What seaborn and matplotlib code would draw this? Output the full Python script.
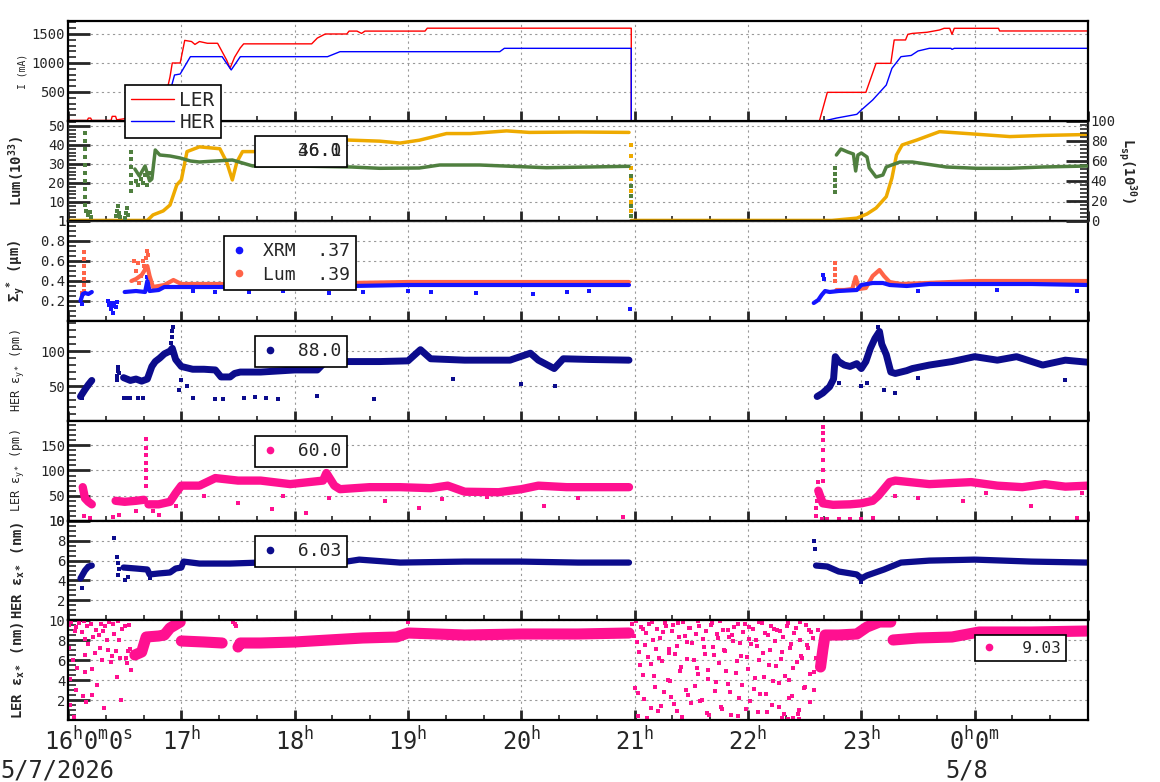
import seaborn as sns
import matplotlib.pyplot as plt
import matplotlib.transforms as mtransforms
from matplotlib.lines import Line2D
from matplotlib.ticker import MultipleLocator, FixedLocator, FixedFormatter

# time is hours since 16:00 on 5/7/2026

# beam currents (mA)
ler_current = [(0, 10), (0.17, 10), (0.18, 50), (0.2, 50), (0.21, 10), (0.38, 10), (0.39, 80), (0.42, 80),
               (0.43, 20), (0.5, 40), (0.53, 80), (0.6, 60), (0.64, 90), (0.68, 110), (0.72, 500), (0.87, 500),
               (0.90, 760), (0.92, 1000), (0.99, 1000), (1.03, 1390), (1.09, 1370), (1.12, 1320), (1.16, 1370),
               (1.23, 1340), (1.32, 1340), (1.40, 1050), (1.43, 910), (1.47, 1100), (1.52, 1260), (1.55, 1330),
               (2.15, 1330), (2.20, 1430), (2.27, 1500), (2.46, 1500), (2.48, 1550), (2.55, 1550), (2.59, 1510),
               (2.62, 1550), (3.15, 1550), (3.17, 1600), (4.97, 1600), (4.97, 0), (6.60, 0), (6.63, 0),
               (6.70, 494), (7.04, 494), (7.13, 994), (7.26, 994), (7.29, 1397), (7.39, 1397), (7.41, 1494),
               (7.45, 1510), (7.58, 1530), (7.69, 1569), (7.73, 1598), (7.78, 1598), (7.80, 1494), (7.82, 1598),
               (8.21, 1598), (8.22, 1552), (9.0, 1552)]
her_current = [(0, 5), (0.53, 5), (0.64, 50), (0.72, 190), (0.81, 360), (0.87, 420), (0.90, 505), (0.94, 793),
               (0.99, 810), (1.08, 1109), (1.36, 1109), (1.44, 880), (1.52, 1109), (2.29, 1109), (2.40, 1195),
               (3.81, 1195), (3.85, 1253), (4.97, 1253), (4.97, 0), (6.60, 0), (6.68, 5), (6.78, 50),
               (6.96, 115), (7.00, 190), (7.10, 362), (7.22, 620), (7.27, 908), (7.35, 1109), (7.44, 1130),
               (7.50, 1207), (7.60, 1253), (7.79, 1253), (7.80, 1235), (7.82, 1253), (9.0, 1253)]

# luminosity (left axis, 10^33) and specific luminosity (right axis, 10^30)
lum_day1 = [(0, 0.3), (0.70, 0.3), (0.75, 3.2), (0.84, 5.3), (0.90, 8.4), (0.96, 19), (1.0, 21.6), (1.05, 36.5),
            (1.16, 39), (1.34, 38), (1.40, 31), (1.45, 21.6), (1.49, 31), (1.54, 36.5), (1.76, 36.5), (2.05, 38),
            (2.34, 40), (2.46, 42.6), (2.75, 42), (2.93, 41), (3.10, 42.5), (3.34, 46), (3.55, 46), (3.87, 47.4),
            (4.07, 46.6), (4.50, 46.8), (4.95, 46.6)]
lum_drop = [(4.97, 40), (4.97, 34), (4.97, 28), (4.97, 22), (4.97, 16), (4.97, 10), (4.97, 5)]
lum_day2 = [(4.97, 0.3), (6.74, 0.3), (6.96, 1.5), (7.05, 3.7), (7.13, 6.8), (7.22, 12.8), (7.27, 22.6),
            (7.31, 34.7), (7.36, 40), (7.49, 42.6), (7.69, 47), (7.98, 45.8), (8.31, 44.4), (8.60, 45), (9.0, 45.5)]
lsp_day1 = [(0.59, 52), (0.63, 45), (0.68, 55), (0.72, 40), (0.74, 42), (0.77, 71), (0.81, 66), (0.90, 65),
            (0.99, 63), (1.08, 60), (1.16, 59), (1.30, 60), (1.45, 61), (1.63, 55), (2.0, 55), (2.5, 54),
            (2.75, 52.7), (3.10, 53), (3.28, 56), (3.63, 56), (4.22, 53.3), (4.60, 54), (4.95, 54.7)]
lsp_day2 = [(6.78, 66), (6.82, 72), (6.88, 69), (6.93, 67), (6.95, 50), (6.97, 66), (7.0, 68), (7.05, 64),
            (7.07, 53), (7.13, 44), (7.19, 46), (7.22, 54), (7.34, 59), (7.45, 59), (7.75, 54), (8.02, 52.7),
            (8.31, 52.7), (8.60, 54), (9.0, 55)]
lsp_dots = [(0.15, 88), (0.15, 80), (0.15, 72), (0.15, 64), (0.15, 56), (0.15, 48), (0.15, 40), (0.15, 32),
            (0.15, 24), (0.15, 16), (0.16, 10), (0.18, 6), (0.19, 9), (0.20, 4), (0.42, 5), (0.43, 10), (0.44, 15),
            (0.45, 8), (0.46, 4), (0.50, 3), (0.51, 8), (0.52, 13), (0.53, 6), (0.56, 30), (0.56, 38), (0.56, 46),
            (0.56, 54), (0.56, 62), (0.56, 69), (0.60, 40), (0.62, 36), (0.64, 42), (0.66, 38), (0.68, 46),
            (0.70, 36), (0.72, 48), (4.97, 45), (4.97, 35), (4.97, 25), (4.97, 15), (4.97, 5), (6.77, 29),
            (6.77, 35), (6.77, 41), (6.77, 47), (6.77, 53)]

# vertical beam size (um)
xrm_day0 = [(0.11, 0.20), (0.13, 0.27), (0.15, 0.28), (0.18, 0.27), (0.21, 0.29)]
xrm_day1 = [(0.50, 0.29), (0.60, 0.30), (0.68, 0.29), (0.70, 0.40), (0.72, 0.30), (0.80, 0.31), (0.85, 0.34),
            (1.0, 0.34), (1.5, 0.34), (2.0, 0.35), (2.5, 0.35), (3.0, 0.36), (4.0, 0.36), (4.95, 0.36)]
xrm_day2 = [(6.58, 0.18), (6.62, 0.21), (6.65, 0.26), (6.68, 0.30), (6.72, 0.29), (6.80, 0.30), (6.96, 0.31),
            (7.0, 0.36), (7.1, 0.38), (7.19, 0.38), (7.25, 0.36), (7.4, 0.35), (7.6, 0.37), (8.0, 0.37),
            (8.5, 0.37), (9.0, 0.36)]
xrm_dots = [(0.12, 0.17), (0.35, 0.20), (0.36, 0.16), (0.37, 0.18), (0.38, 0.12), (0.39, 0.15), (0.40, 0.08),
            (0.41, 0.18), (0.42, 0.14), (0.43, 0.19), (0.70, 0.44), (0.71, 0.37), (1.1, 0.30), (1.3, 0.29),
            (1.6, 0.29), (1.9, 0.30), (2.3, 0.28), (2.6, 0.29), (3.0, 0.30), (3.2, 0.29), (3.6, 0.28), (4.1, 0.27),
            (4.4, 0.29), (4.6, 0.30), (4.96, 0.12), (6.66, 0.46), (6.67, 0.42), (7.5, 0.30), (8.2, 0.31),
            (8.9, 0.30)]
lumsize_day1 = [(0.56, 0.40), (0.60, 0.42), (0.65, 0.46), (0.70, 0.55), (0.72, 0.45), (0.75, 0.34), (0.85, 0.36),
                (0.93, 0.41), (1.0, 0.37), (1.2, 0.37), (1.5, 0.37), (2.0, 0.38), (2.5, 0.38), (3.0, 0.39),
                (4.0, 0.39), (4.95, 0.39)]
lumsize_day2 = [(6.78, 0.31), (6.85, 0.31), (6.92, 0.32), (6.95, 0.44), (6.98, 0.32), (7.04, 0.33), (7.10, 0.45),
                (7.16, 0.51), (7.20, 0.45), (7.25, 0.39), (7.35, 0.37), (7.58, 0.38), (8.0, 0.40), (8.5, 0.40),
                (9.0, 0.40)]
lumsize_dots = [(0.14, 0.69), (0.14, 0.62), (0.14, 0.55), (0.14, 0.48), (0.14, 0.42), (0.14, 0.36), (0.14, 0.30),
                (0.12, 0.28), (0.13, 0.27), (0.58, 0.60), (0.60, 0.50), (0.62, 0.58), (0.63, 0.38), (0.64, 0.45),
                (0.66, 0.60), (0.67, 0.55), (0.68, 0.52), (0.69, 0.63), (0.70, 0.70), (0.71, 0.66), (6.77, 0.58),
                (6.77, 0.52), (6.77, 0.46), (6.77, 0.40)]

# HER vertical emittance (pm)
her_ey_a = [(0.11, 35), (0.13, 40), (0.15, 45), (0.18, 52), (0.21, 58)]
her_ey_b = [(0.49, 62), (0.55, 58), (0.60, 60), (0.65, 57), (0.70, 60), (0.74, 78), (0.77, 85), (0.81, 90),
            (0.85, 96), (0.90, 100), (0.92, 104), (0.95, 88), (1.0, 78), (1.05, 76), (1.10, 74), (1.20, 74),
            (1.30, 73), (1.35, 63), (1.43, 63), (1.47, 68), (1.52, 70), (1.70, 70), (2.0, 73), (2.20, 73),
            (2.26, 83), (2.31, 97), (2.40, 85), (2.75, 85), (3.0, 86), (3.11, 102), (3.20, 89), (3.50, 87),
            (3.90, 87), (4.08, 97), (4.15, 87), (4.29, 75), (4.37, 89), (4.60, 88), (4.95, 87)]
her_ey_c = [(6.61, 35), (6.66, 40), (6.72, 49), (6.755, 60), (6.77, 92), (6.80, 85), (6.85, 80), (6.90, 78),
            (6.96, 82), (7.0, 75), (7.04, 85), (7.08, 104), (7.12, 118), (7.16, 128), (7.18, 110), (7.22, 95),
            (7.26, 70), (7.30, 68), (7.40, 72), (7.45, 75), (7.60, 80), (7.80, 85), (8.0, 92), (8.2, 87),
            (8.37, 92), (8.6, 80), (8.8, 87), (9.0, 84)]
her_ey_dots = [(0.12, 33), (0.43, 58), (0.43, 65), (0.44, 72), (0.44, 77), (0.45, 68), (0.49, 33), (0.52, 33),
               (0.55, 33), (0.62, 33), (0.66, 33), (0.91, 112), (0.92, 120), (0.92, 128), (0.93, 135), (0.98, 45),
               (1.0, 58), (1.05, 50), (1.10, 33), (1.30, 32), (1.37, 32), (1.55, 33), (1.65, 34), (1.75, 33),
               (1.85, 32), (2.20, 36), (2.70, 31), (3.40, 60), (4.0, 53), (4.3, 50), (6.75, 66), (6.8, 55),
               (7.0, 50), (7.05, 55), (7.2, 45), (7.3, 40), (7.5, 62), (8.8, 58), (7.15, 135), (7.14, 125)]

# LER vertical emittance (pm)
ler_ey_a = [(0.13, 67), (0.15, 45), (0.18, 38), (0.21, 33)]
ler_ey_b = [(0.42, 40), (0.50, 38), (0.60, 40), (0.67, 42)]
ler_ey_c = [(0.71, 33), (0.80, 33), (0.90, 38), (0.95, 55), (1.0, 70), (1.16, 70), (1.30, 85), (1.50, 80),
            (1.70, 80), (1.96, 73), (2.25, 80), (2.28, 95), (2.35, 70), (2.40, 63), (2.66, 67), (2.93, 67),
            (3.20, 65), (3.35, 70), (3.50, 58), (3.80, 57), (4.0, 63), (4.15, 70), (4.40, 67), (4.95, 67)]
ler_ey_d = [(6.62, 60), (6.66, 35), (6.75, 32), (6.90, 33), (7.0, 35), (7.10, 40), (7.15, 50), (7.25, 77),
            (7.30, 80), (7.60, 73), (7.97, 77), (8.20, 70), (8.42, 67), (8.62, 73), (8.80, 68), (9.0, 70)]
ler_ey_dots = [(0.14, 10), (0.19, 5), (0.40, 8), (0.45, 12), (0.60, 20), (0.69, 70), (0.69, 85), (0.69, 100),
               (0.69, 115), (0.69, 130), (0.69, 145), (0.69, 163), (0.75, 20), (0.80, 12), (0.95, 30), (1.2, 50),
               (1.5, 35), (1.8, 24), (1.9, 50), (2.1, 15), (2.3, 45), (2.8, 40), (3.1, 25), (3.3, 44), (3.7, 47),
               (4.2, 30), (4.5, 45), (4.9, 8), (6.60, 10), (6.60, 25), (6.61, 40), (6.61, 55), (6.62, 77),
               (6.66, 80), (6.66, 100), (6.66, 120), (6.66, 140), (6.66, 160), (6.66, 175), (6.66, 187),
               (6.65, 3), (6.70, 4), (6.80, 3), (6.90, 4), (7.0, 3), (7.1, 5), (7.3, 50), (7.5, 45), (7.9, 40),
               (8.1, 55), (8.5, 30), (8.9, 6), (8.95, 55)]

# HER horizontal emittance (nm)
her_ex_a = [(0.11, 4.2), (0.15, 5.0), (0.18, 5.4), (0.21, 5.5)]
her_ex_b = [(0.49, 5.3), (0.60, 5.2), (0.70, 5.1), (0.72, 4.6), (0.80, 4.7), (0.90, 4.8), (0.95, 5.2), (1.0, 5.3),
            (1.02, 5.9), (1.16, 5.7), (1.43, 5.7), (1.69, 5.8), (2.05, 5.7), (2.40, 5.8), (2.57, 6.1), (2.93, 5.8),
            (3.50, 5.9), (4.0, 5.9), (4.50, 5.8), (4.95, 5.8)]
her_ex_c = [(6.60, 5.5), (6.70, 5.4), (6.80, 4.9), (6.96, 4.6), (7.0, 4.2), (7.05, 4.5), (7.20, 5.1), (7.35, 5.8),
            (7.60, 6.0), (8.0, 6.1), (8.5, 5.9), (9.0, 5.8)]
her_ex_dots = [(0.12, 3.2), (0.41, 8.3), (0.43, 6.4), (0.44, 5.8), (0.44, 4.5), (0.45, 5.2), (0.50, 4.0),
               (0.53, 4.3), (0.72, 4.2), (6.58, 8.0), (6.59, 7.2), (7.0, 3.8)]

# LER horizontal emittance (nm)
ler_ex_a = [(0.59, 6.5), (0.65, 6.8), (0.69, 8.3), (0.80, 8.4), (0.85, 8.5), (0.90, 9.2), (0.96, 9.6), (0.99, 9.8)]
ler_ex_b = [(1.0, 7.9), (1.2, 7.8), (1.36, 7.7)]
ler_ex_c = [(1.50, 7.3), (1.52, 7.7), (1.70, 7.7), (2.0, 7.8), (2.3, 8.0), (2.6, 8.2), (2.9, 8.3), (3.0, 8.7),
            (3.5, 8.5), (4.0, 8.6), (4.5, 8.6), (4.95, 8.7)]
ler_ex_d = [(6.64, 5.3), (6.66, 7.0), (6.68, 8.5), (6.80, 8.5), (6.96, 8.6), (7.05, 9.3), (7.16, 9.8), (7.26, 9.8)]
ler_ex_e = [(7.28, 8.0), (7.50, 8.2), (7.80, 8.3), (8.04, 8.8), (8.5, 8.8), (9.0, 8.9)]
ler_ex_dots = [(1.46, 9.8), (1.47, 9.6), (1.48, 9.4), (3.0, 9.8), (6.30, 0.2), (6.35, 0.1), (6.40, 0.2),
               (6.45, 0.15), (6.58, 3.0), (6.60, 6.2), (6.62, 9.0)]
early_t = [0.01, 0.01, 0.02, 0.02, 0.03, 0.04, 0.05, 0.06, 0.07, 0.07, 0.08, 0.10, 0.12, 0.13, 0.14, 0.15, 0.15,
           0.15, 0.16, 0.17, 0.18, 0.20, 0.21, 0.21, 0.22, 0.24, 0.25, 0.26, 0.27, 0.28, 0.29, 0.30, 0.31, 0.32,
           0.33, 0.34, 0.35, 0.36, 0.38, 0.39, 0.40, 0.41, 0.42, 0.43, 0.44, 0.45, 0.46, 0.47, 0.48, 0.50, 0.51,
           0.52, 0.53, 0.54, 0.55, 0.56, 0.57]
early_v = [9.5, 7.2, 4.1, 1.5, 9.8, 6.0, 0.3, 8.9, 3.0, 9.3, 5.2, 9.7, 8.8, 2.4, 9.9, 8.1, 6.5, 4.8, 1.8, 9.4,
           7.6, 9.6, 5.1, 2.5, 8.3, 6.7, 9.0, 3.5, 8.5, 7.2, 9.6, 6.0, 8.9, 1.2, 9.4, 8.0, 7.0, 9.8, 5.8, 6.4,
           9.6, 8.6, 6.9, 4.3, 9.9, 8.0, 6.2, 2.0, 9.1, 9.4, 6.2, 5.7, 6.9, 9.5, 7.1, 5.0, 6.6]
gap_t = [4.98, 5.00, 5.02, 5.03, 5.05, 5.07, 5.08, 5.10, 5.12, 5.14, 5.15, 5.17, 5.19, 5.21, 5.22, 5.24, 5.26,
         5.28, 5.30, 5.31, 5.33, 5.35, 5.37, 5.38, 5.40, 5.42, 5.44, 5.46, 5.47, 5.49, 5.51, 5.53, 5.55, 5.56,
         5.58, 5.60, 5.62, 5.64, 5.65, 5.67, 5.69, 5.71, 5.73, 5.74, 5.76, 5.78, 5.80, 5.82, 5.83, 5.85, 5.87,
         5.89, 5.91, 5.92, 5.94, 5.96, 5.98, 6.00, 6.01, 6.03, 6.05, 6.07, 6.09, 6.10, 6.12, 6.14, 6.16, 6.18,
         6.19, 6.21, 6.23, 6.25, 6.27, 6.28, 6.30, 6.32, 6.34, 6.36, 6.37, 6.39, 6.41, 6.43, 6.45, 6.46, 6.48,
         6.50, 6.52, 6.54, 6.55, 6.57]
gap_v = [9.6, 3.2, 7.8, 0.4, 5.5, 9.1, 2.1, 8.7, 6.3, 1.2, 9.8, 4.4, 7.1, 0.9, 8.2, 5.9, 2.8, 9.4, 6.7, 3.9,
         8.9, 1.6, 7.4, 9.7, 4.9, 0.3, 8.4, 6.1, 2.5, 9.2, 7.7, 3.4, 5.2, 9.9, 1.9, 8.1, 6.6, 0.7, 4.1, 9.5,
         7.3, 2.9, 8.6, 5.7, 1.3, 9.0, 6.9, 3.6, 8.3, 0.5, 7.9, 4.7, 9.6, 2.2, 6.4, 8.8, 1.1, 5.1, 9.3, 7.6,
         3.1, 8.0, 0.8, 6.0, 9.7, 4.3, 2.6, 8.5, 7.0, 1.5, 9.1, 5.4, 3.7, 8.9, 6.8, 0.6, 9.4, 4.0, 7.2, 2.4,
         8.7, 5.8, 1.0, 9.8, 6.2, 3.3, 7.5, 9.0, 4.6, 8.2]
gap2_t = [4.99, 5.01, 5.025, 5.04, 5.06, 5.075, 5.09, 5.11, 5.13, 5.145, 5.16, 5.18, 5.20, 5.215, 5.23, 5.25,
          5.27, 5.29, 5.305, 5.32, 5.34, 5.36, 5.375, 5.39, 5.41, 5.43, 5.45, 5.465, 5.48, 5.50, 5.52, 5.54,
          5.555, 5.57, 5.59, 5.61, 5.63, 5.645, 5.66, 5.68, 5.70, 5.72, 5.735, 5.75, 5.77, 5.79, 5.81, 5.825,
          5.84, 5.86, 5.88, 5.90, 5.915, 5.93, 5.95, 5.97, 5.99, 6.005, 6.02, 6.04, 6.06, 6.08, 6.095, 6.11,
          6.13, 6.15, 6.17, 6.185, 6.20, 6.22, 6.24, 6.26, 6.275, 6.29, 6.31, 6.33, 6.35, 6.365, 6.38, 6.40,
          6.42, 6.44, 6.455, 6.47, 6.49, 6.51, 6.53, 6.545, 6.56, 6.58]
gap2_v = [8.4, 9.9, 2.7, 6.8, 9.3, 4.5, 7.5, 0.2, 9.6, 5.6, 8.0, 3.3, 9.1, 6.2, 1.4, 8.8, 9.7, 4.0, 7.1, 2.3,
          9.5, 6.6, 0.9, 8.3, 5.3, 9.8, 3.0, 7.8, 9.2, 1.7, 6.0, 8.6, 4.6, 9.4, 2.0, 7.3, 8.9, 5.0, 0.5, 9.7,
          6.5, 3.8, 8.2, 9.9, 1.1, 7.0, 4.9, 9.0, 2.8, 8.5, 9.3, 5.9, 0.4, 7.7, 3.5, 9.6, 6.3, 8.1, 1.9, 9.1,
          4.2, 7.4, 9.8, 2.6, 6.7, 8.7, 0.8, 5.5, 9.4, 3.9, 7.9, 9.0, 1.3, 6.1, 8.3, 4.4, 9.7, 2.2, 7.6, 5.2,
          9.2, 0.6, 8.0, 6.4, 3.2, 9.5, 7.2, 1.8, 8.8, 4.8]

hour_labels = [r'16$^{h}$0$^{m}$0$^{s}$', r'17$^{h}$', r'18$^{h}$', r'19$^{h}$', r'20$^{h}$',
               r'21$^{h}$', r'22$^{h}$', r'23$^{h}$', r'0$^{h}$0$^{m}$']
legend_values = {'lum': '46.0', 'lsp': '36.1', 'xrm': '.37', 'lumsize': '.39',
                 'her_ey': '88.0', 'ler_ey': '60.0', 'her_ex': '6.03', 'ler_ex': '9.03'}

RED, BLUE = '#ff0000', '#0000ff'
ORANGE, GREEN = '#eeaa00', '#4f7f3f'
XRM_C, LUM_C = '#1414ff', '#ff6347'
NAVY, PINK = '#0c0c8c', '#ff1090'

sns.set_style('white')
plt.rcParams['font.family'] = ['DejaVu Sans Mono', 'DejaVu Sans']
plt.rcParams['mathtext.fontset'] = 'custom'
plt.rcParams['mathtext.rm'] = 'DejaVu Sans Mono'
plt.rcParams['mathtext.it'] = 'DejaVu Sans Mono'
plt.rcParams['mathtext.bf'] = 'DejaVu Sans Mono:bold'

W, H = 1160, 782
fig = plt.figure(figsize=(W / 100, H / 100), dpi=100)
edges = [21, 121, 221, 321, 421, 521, 620, 720]
axes = []
for i in range(7):
    axes.append(fig.add_axes([68 / W, 1 - edges[i + 1] / H, 1020 / W, (edges[i + 1] - edges[i]) / H]))


def line(ax, pts, color, lw):
    t, v = zip(*pts)
    sns.lineplot(x=list(t), y=list(v), ax=ax, color=color, linewidth=lw, estimator=None, sort=False)


def dots(ax, t, v, color, s=6):
    sns.scatterplot(x=list(t), y=list(v), ax=ax, color=color, s=s, marker='s', linewidth=0)


def pdots(ax, pts, color, s=6):
    t, v = zip(*pts)
    dots(ax, t, v, color, s)


def style(ax, lim, ticks, labels, minor, label, weight='normal', size=8):
    ax.set_xlim(0, 9)
    ax.set_ylim(*lim)
    ax.xaxis.set_major_locator(MultipleLocator(1))
    ax.xaxis.set_minor_locator(MultipleLocator(1 / 3))
    ax.yaxis.set_major_locator(FixedLocator(ticks))
    ax.yaxis.set_major_formatter(FixedFormatter(labels))
    ax.yaxis.set_minor_locator(MultipleLocator(minor))
    ax.tick_params(axis='x', which='major', direction='in', length=7, width=2, bottom=True, top=False,
                   labelbottom=False)
    ax.tick_params(axis='x', which='minor', direction='in', length=3.5, width=1.2, bottom=True, top=False)
    ax.tick_params(axis='y', which='major', direction='in', length=16, width=2, left=True, right=False,
                   labelsize=10, pad=2)
    ax.tick_params(axis='y', which='minor', direction='in', length=6, width=1.2, left=True, right=False)
    ax.grid(True, which='major', linestyle=(0, (2, 3)), color='#999999', linewidth=0.8)
    for sp in ax.spines.values():
        sp.set_linewidth(1.6)
        sp.set_color('black')
    ax.set_xlabel('')
    ax.set_ylabel(label, fontsize=size, fontweight=weight)
    ax.yaxis.set_label_coords(-0.04, 0.5)


def box_legend(ax, handles, labels, px, py, fs=13, **kw):
    opts = dict(loc='upper left', bbox_to_anchor=(px / W, 1 - py / H), bbox_transform=fig.transFigure,
                fontsize=fs, frameon=True, fancybox=False, edgecolor='black', framealpha=1, borderaxespad=0,
                borderpad=0.35, handlelength=1.0, handletextpad=0.4, labelspacing=0.25)
    opts.update(kw)
    leg = ax.legend(handles, labels, **opts)
    leg.get_frame().set_linewidth(1.2)
    return leg


def dot_handle(color):
    return Line2D([], [], ls='none', marker='o', markersize=4.5, color=color)


# panel 1: beam currents
ax = axes[0]
line(ax, ler_current, RED, 1.0)
line(ax, her_current, BLUE, 1.0)
style(ax, (0, 1724), [500, 1000, 1500], ['500', '1000', '1500'], 100, 'I (mA)', size=7)
box_legend(ax, [Line2D([], [], color=RED, lw=1), Line2D([], [], color=BLUE, lw=1)], ['LER', 'HER'], 125, 85,
           fs=14, handlelength=2.2, handletextpad=0.3, labelspacing=0.15, borderpad=0.3)
ax.set_zorder(10)

# panel 2: luminosity
ax = axes[1]
axr = ax.twinx()
line(ax, lum_day1, ORANGE, 2.5)
line(ax, lum_day2, ORANGE, 2.5)
pdots(ax, lum_drop, ORANGE, 5)
line(axr, lsp_day1, GREEN, 2.5)
line(axr, lsp_day2, GREEN, 2.5)
pdots(axr, lsp_dots, GREEN, 5)
style(ax, (0, 52.6), [0, 10, 20, 30, 40, 50], ['1', '10', '20', '30', '40', '50'], 2,
      r'Lum(10$^{\mathbf{33}}$)', weight='bold', size=10)
axr.set_ylim(0, 100)
axr.set_xlim(0, 9)
axr.yaxis.set_major_locator(MultipleLocator(20))
axr.yaxis.set_minor_locator(MultipleLocator(4))
axr.tick_params(axis='y', which='major', direction='in', length=16, width=2, labelsize=10, pad=2)
axr.tick_params(axis='y', which='minor', direction='in', length=6, width=1.2)
axr.set_ylabel(r'L$_{\mathbf{sp}}$(10$^{\mathbf{30}}$)', fontsize=10, fontweight='bold', rotation=270,
               labelpad=14)
axr.yaxis.set_label_coords(1.05, 0.5)
blank = Line2D([], [], ls='none')
leg_a = box_legend(axr, [blank], [' ' + legend_values['lum']], 255, 136)
axr.add_artist(leg_a)
box_legend(axr, [blank], [' ' + legend_values['lsp']], 255, 136, framealpha=0)

# panel 3: vertical beam size
ax = axes[2]
line(ax, lumsize_day1, LUM_C, 3)
line(ax, lumsize_day2, LUM_C, 3)
pdots(ax, lumsize_dots, LUM_C)
line(ax, xrm_day0, XRM_C, 3)
line(ax, xrm_day1, XRM_C, 3)
line(ax, xrm_day2, XRM_C, 3)
pdots(ax, xrm_dots, XRM_C)
style(ax, (0, 1), [0.2, 0.4, 0.6, 0.8, 1.0], ['0.2', '0.4', '0.6', '0.8', '1'], 0.05,
      r'$\mathbf{\Sigma_y}^{\mathbf{*}}$ (μm)', weight='bold', size=10)
box_legend(ax, [dot_handle(XRM_C), dot_handle(LUM_C)],
           ['XRM  ' + legend_values['xrm'], 'Lum  ' + legend_values['lumsize']], 224, 236,
           handletextpad=0.8, labelspacing=0.3)

# panel 4: HER vertical emittance
ax = axes[3]
for seg in (her_ey_a, her_ey_b, her_ey_c):
    line(ax, seg, NAVY, 5)
pdots(ax, her_ey_dots, NAVY)
style(ax, (0, 143), [50, 100], ['50', '100'], 10, r'HER ε$_{y*}$ (pm)', size=8.5)
box_legend(ax, [dot_handle(NAVY)], [' ' + legend_values['her_ey']], 255, 336)

# panel 5: LER vertical emittance
ax = axes[4]
for seg in (ler_ey_a, ler_ey_b, ler_ey_c, ler_ey_d):
    line(ax, seg, PINK, 6)
pdots(ax, ler_ey_dots, PINK)
style(ax, (0, 198), [0, 50, 100, 150], ['10', '50', '100', '150'], 10, r'LER ε$_{y*}$ (pm)', size=8.5)
box_legend(ax, [dot_handle(PINK)], [' ' + legend_values['ler_ey']], 255, 436)

# panel 6: HER horizontal emittance
ax = axes[5]
for seg in (her_ex_a, her_ex_b, her_ex_c):
    line(ax, seg, NAVY, 4.5)
pdots(ax, her_ex_dots, NAVY)
style(ax, (0, 10), [2, 4, 6, 8, 10], ['2', '4', '6', '8', '10'], 0.5, r'HER ε$_{\mathbf{x*}}$ (nm)',
      weight='bold', size=10)
box_legend(ax, [dot_handle(NAVY)], [' ' + legend_values['her_ex']], 255, 536)

# panel 7: LER horizontal emittance
ax = axes[6]
for seg in (ler_ex_a, ler_ex_b, ler_ex_c, ler_ex_d, ler_ex_e):
    line(ax, seg, PINK, 8)
pdots(ax, ler_ex_dots, PINK)
dots(ax, early_t, early_v, PINK, 7)
dots(ax, gap_t, gap_v, PINK, 7)
dots(ax, gap2_t, gap2_v, PINK, 7)
style(ax, (0, 10), [2, 4, 6, 8, 10], ['2', '4', '6', '8', '10'], 0.5, r'LER ε$_{\mathbf{x*}}$ (nm)',
      weight='bold', size=10)
box_legend(ax, [dot_handle(PINK)], ['  ' + legend_values['ler_ex']], 975, 635, fs=11.5)

# time axis labels on the bottom panel
ax.set_xticks(range(9))
ax.set_xticklabels(hour_labels, fontsize=17)
ax.tick_params(axis='x', which='major', labelbottom=True, pad=5)
first = ax.get_xticklabels()[0]
first.set_transform(first.get_transform() + mtransforms.ScaledTranslation(0.21, 0, fig.dpi_scale_trans))
fig.text(0.0, 1 - 770 / H, '5/7/2026', fontsize=17, ha='left', va='center')
fig.text(967 / W, 1 - 770 / H, '5/8', fontsize=17, ha='center', va='center')

fig.savefig('out.png', dpi=100)
